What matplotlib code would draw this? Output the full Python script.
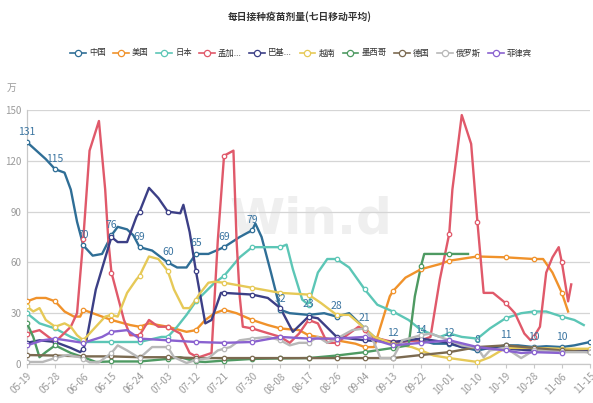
import numpy as np
import pandas as pd
import matplotlib
matplotlib.use("Agg")
import matplotlib.pyplot as plt
from matplotlib.lines import Line2D

plt.rcParams['font.family'] = ['Noto Sans CJK SC', 'DejaVu Sans']

# 每日接种疫苗剂量(七日移动平均), 单位: 万剂
start = pd.Timestamp('2021-05-19')
tick_dates = ['05-19', '05-28', '06-06', '06-15', '06-24', '07-03', '07-12', '07-21',
              '07-30', '08-08', '08-17', '08-26', '09-04', '09-13', '09-22', '10-01',
              '10-10', '10-19', '10-28', '11-06', '11-15']

names = ['中国', '美国', '日本', '孟加...', '巴基...', '越南', '墨西哥', '德国', '俄罗斯', '菲律宾']
colors = ['#2f6e96', '#f0922b', '#5cc6b6', '#e0596a', '#3c3f86',
          '#e6c957', '#4e9a62', '#7b6a50', '#b8b8b8', '#8a62d0']

china = [('05-19', 131), ('05-22', 126), ('05-25', 121), ('05-28', 115), ('05-31', 113),
         ('06-02', 103), ('06-04', 84), ('06-06', 70), ('06-09', 64), ('06-12', 65),
         ('06-15', 76), ('06-17', 81), ('06-20', 79.5), ('06-22', 76), ('06-24', 69),
         ('06-28', 67), ('07-03', 60), ('07-06', 57), ('07-09', 57), ('07-12', 65),
         ('07-16', 65), ('07-21', 69), ('07-26', 75), ('07-30', 79), ('07-31', 83),
         ('08-02', 75), ('08-05', 54), ('08-08', 32), ('08-11', 30), ('08-17', 29),
         ('08-22', 30), ('08-26', 28), ('08-30', 30), ('09-04', 21), ('09-07', 16),
         ('09-10', 14), ('09-13', 12), ('09-16', 13), ('09-19', 14), ('09-22', 14),
         ('09-26', 12), ('10-01', 12), ('10-05', 10), ('10-10', 8), ('10-14', 9.5),
         ('10-19', 11), ('10-23', 11), ('10-28', 10), ('11-01', 10.5), ('11-06', 10),
         ('11-10', 11), ('11-15', 13)]
china_labels = ['131', '115', '70', '76', '69', '60', '65', '69', '79', '32', '23',
                '28', '21', '12', '14', '12', '8', '11', '10', '10']

usa = [('05-19', 37), ('05-22', 39), ('05-25', 39), ('05-28', 37), ('05-31', 31),
       ('06-03', 28), ('06-05', 28), ('06-06', 32), ('06-09', 30), ('06-15', 26),
       ('06-21', 23), ('06-24', 22), ('06-27', 24), ('07-03', 22), ('07-09', 19),
       ('07-12', 20), ('07-15', 26), ('07-18', 30), ('07-21', 32), ('07-25', 30),
       ('07-30', 26), ('08-04', 23), ('08-08', 21), ('08-14', 20), ('08-17', 17),
       ('08-20', 16), ('08-26', 14), ('09-01', 12), ('09-04', 10), ('09-07', 10),
       ('09-09', 22), ('09-12', 40), ('09-13', 43), ('09-17', 51), ('09-22', 56),
       ('09-28', 59), ('10-01', 61), ('10-10', 63.5), ('10-19', 63), ('10-28', 62),
       ('10-31', 62), ('11-03', 54), ('11-06', 42), ('11-08', 31)]

japan = [('05-19', 30), ('05-23', 24), ('05-28', 21), ('06-02', 16), ('06-06', 13),
         ('06-15', 13), ('06-24', 13), ('07-01', 16), ('07-03', 16), ('07-06', 22),
         ('07-09', 29), ('07-12', 37), ('07-18', 48), ('07-21', 52), ('07-26', 63),
         ('07-30', 69), ('08-08', 69), ('08-10', 70.5), ('08-12', 56), ('08-15', 38),
         ('08-17', 35), ('08-20', 54), ('08-23', 62), ('08-26', 62), ('08-30', 57),
         ('09-04', 44), ('09-08', 35), ('09-13', 31), ('09-18', 26), ('09-22', 20),
         ('09-28', 16), ('10-01', 18), ('10-05', 16), ('10-10', 15), ('10-14', 21),
         ('10-19', 27), ('10-24', 30), ('10-28', 31), ('11-01', 31), ('11-06', 28),
         ('11-10', 26), ('11-13', 23)]

bangladesh = [('05-19', 18), ('05-23', 20), ('05-28', 13), ('06-02', 22), ('06-04', 30),
              ('06-06', 74), ('06-08', 126), ('06-11', 143.5), ('06-13', 103), ('06-14', 73),
              ('06-15', 54), ('06-19', 26), ('06-21', 17), ('06-24', 17), ('06-27', 26),
              ('06-30', 22), ('07-03', 22), ('07-07', 18), ('07-10', 6.5), ('07-12', 4.5),
              ('07-13', 4), ('07-17', 6.5), ('07-18', 40), ('07-19', 73), ('07-21', 123),
              ('07-24', 126), ('07-25', 73), ('07-26', 40), ('07-27', 22), ('07-30', 21),
              ('08-08', 16), ('08-11', 12.5), ('08-14', 18), ('08-17', 26), ('08-20', 24),
              ('08-23', 12.5), ('08-26', 12.5), ('08-30', 18), ('09-02', 22), ('09-04', 20),
              ('09-06', 16), ('09-13', 13), ('09-22', 14), ('09-25', 16), ('09-28', 50),
              ('10-01', 77), ('10-02', 103), ('10-05', 147), ('10-08', 130), ('10-10', 84),
              ('10-12', 42), ('10-15', 42), ('10-19', 36), ('10-22', 30), ('10-25', 18),
              ('10-27', 14), ('10-28', 16), ('10-30', 22), ('11-01', 54), ('11-03', 63),
              ('11-05', 69), ('11-06', 60), ('11-08', 37), ('11-09', 47)]

pakistan = [('05-19', 12.5), ('05-23', 14), ('05-28', 13), ('06-02', 9.5), ('06-05', 7),
            ('06-06', 9), ('06-07', 14), ('06-10', 44), ('06-15', 75), ('06-17', 72),
            ('06-20', 72), ('06-23', 87), ('06-24', 90), ('06-27', 104), ('06-30', 98),
            ('07-03', 90), ('07-07', 89), ('07-08', 94), ('07-10', 78), ('07-12', 55),
            ('07-15', 24), ('07-17', 26), ('07-20', 42), ('07-21', 42), ('07-30', 41),
            ('08-04', 39), ('08-08', 33), ('08-12', 19), ('08-17', 28), ('08-20', 27),
            ('08-26', 16), ('09-04', 14), ('09-13', 13), ('09-22', 15), ('10-01', 12.5),
            ('10-05', 10), ('10-10', 9.5), ('10-19', 9), ('10-28', 8), ('11-06', 8),
            ('11-15', 8)]

vietnam = [('05-19', 34), ('05-21', 31), ('05-23', 33), ('05-25', 26), ('05-28', 22),
           ('05-31', 24), ('06-02', 22), ('06-04', 17), ('06-06', 14), ('06-08', 18),
           ('06-10', 22), ('06-13', 28), ('06-15', 29), ('06-17', 28), ('06-20', 42),
           ('06-23', 50), ('06-24', 52), ('06-25', 56), ('06-27', 63.5), ('06-30', 62),
           ('07-03', 55), ('07-05', 44), ('07-08', 33), ('07-10', 33), ('07-12', 38),
           ('07-13', 41), ('07-16', 48), ('07-18', 48.6), ('07-21', 48), ('07-30', 45),
           ('08-08', 42), ('08-17', 41), ('08-21', 36), ('08-26', 29), ('08-30', 29),
           ('09-04', 21), ('09-07', 16), ('09-13', 12), ('09-19', 10), ('09-22', 8),
           ('09-26', 5), ('10-01', 3.5), ('10-10', 1.2), ('10-14', 4), ('10-19', 9.5),
           ('10-28', 9.5), ('11-06', 9), ('11-15', 9)]

mexico = [('05-19', 24), ('05-21', 16), ('05-23', 4), ('05-25', 7), ('05-28', 11),
          ('06-02', 6.5), ('06-06', 4), ('06-10', 1.2), ('06-15', 1.5), ('06-24', 1.5),
          ('07-03', 3), ('07-07', 4), ('07-12', 1.5), ('07-15', 1.2), ('07-21', 2),
          ('07-30', 3), ('08-08', 3.3), ('08-17', 3.5), ('08-26', 5), ('09-04', 7),
          ('09-13', 9.5), ('09-18', 11), ('09-20', 40), ('09-22', 58), ('09-23', 65),
          ('10-01', 65), ('10-07', 65)]

germany = [('05-19', 5.3), ('05-28', 5), ('06-06', 4.5), ('06-15', 4.5), ('06-24', 4),
           ('07-03', 4), ('07-12', 3.5), ('07-21', 3.5), ('07-30', 3.5), ('08-08', 3.5),
           ('08-17', 3.5), ('08-26', 3.5), ('09-04', 3.5), ('09-13', 3.5), ('09-22', 5.3),
           ('10-01', 7), ('10-10', 10), ('10-19', 11), ('10-28', 9.5), ('11-06', 8),
           ('11-15', 7)]

russia = [('05-19', 1.2), ('05-24', 1.2), ('05-28', 3.5), ('06-01', 5.3), ('06-05', 4),
          ('06-06', 3), ('06-08', 1), ('06-11', 1), ('06-15', 6.5), ('06-17', 11),
          ('06-20', 8), ('06-24', 3.5), ('06-28', 10), ('07-03', 10), ('07-05', 4),
          ('07-09', 0.6), ('07-12', 2.4), ('07-16', 3.5), ('07-19', 8), ('07-21', 9),
          ('07-23', 10), ('07-26', 14), ('07-30', 15), ('08-04', 16), ('08-08', 14),
          ('08-11', 11), ('08-14', 12.5), ('08-17', 12.5), ('08-20', 16), ('08-23', 12.5),
          ('08-26', 15), ('08-31', 20), ('09-04', 21), ('09-07', 12.5), ('09-09', 3.5),
          ('09-13', 3.5), ('09-16', 14), ('09-22', 17), ('09-25', 18), ('09-28', 16),
          ('10-01', 14), ('10-05', 11), ('10-10', 9.5), ('10-12', 4), ('10-14', 8),
          ('10-19', 9.5), ('10-24', 3.5), ('10-28', 8), ('11-06', 7), ('11-15', 7)]

philippines = [('05-19', 11), ('05-24', 14), ('05-28', 15), ('06-06', 12.5), ('06-12', 16),
               ('06-15', 19), ('06-20', 20), ('06-24', 15), ('07-03', 14), ('07-12', 13),
               ('07-21', 12.5), ('07-30', 13), ('08-08', 16), ('08-17', 15), ('08-26', 15),
               ('09-04', 16), ('09-13', 11), ('09-22', 12.5), ('10-01', 14), ('10-10', 10),
               ('10-19', 8), ('10-24', 6.5), ('10-28', 7), ('11-06', 6.5)]

series = [china, usa, japan, bangladesh, pakistan, vietnam, mexico, germany, russia, philippines]


def to_day(md):
    return (pd.Timestamp('2021-' + md) - start).days


fig = plt.figure(figsize=(5.93, 4.03), dpi=100)
ax = fig.add_axes([27 / 593, 1 - 364 / 403, 563 / 593, 254 / 403])

# 水印
ax.text(0.505, 0.57, 'Win.d', transform=ax.transAxes, ha='center', va='center',
        fontsize=36, fontweight='bold', color='#efefef', zorder=0,
        family=['Liberation Sans Narrow', 'DejaVu Sans'])

tick_days = [to_day(d) for d in tick_dates]
handles = []
for data, name, c in zip(series, names, colors):
    x = [to_day(d) for d, _ in data]
    y = [v for _, v in data]
    ax.plot(x, y, color=c, lw=1.7, zorder=3, solid_joinstyle='round')
    mx = [to_day(d) for d, _ in data if d in tick_dates]
    my = [v for d, v in data if d in tick_dates]
    ax.plot(mx, my, 'o', ms=3.2, mfc='white', mec=c, mew=0.9, zorder=4)
    handles.append(Line2D([], [], color=c, lw=1.2, marker='o', ms=4.5, mfc='white',
                          mec=c, mew=0.9, label=name))

# 中国数据标签
cn = dict(china)
for d, lab in zip(tick_dates, china_labels):
    ax.annotate(lab, (to_day(d), cn[d]), xytext=(0, 4), textcoords='offset points',
                ha='center', va='bottom', fontsize=7.5, color='#3a74a0', zorder=5)

ax.set_xlim(0, 180)
ax.set_ylim(0, 150)
ax.set_yticks(np.arange(0, 151, 30))
ax.set_xticks(tick_days)
ax.set_xticklabels(tick_dates, rotation=45, ha='right', va='top', rotation_mode='anchor')
ax.grid(axis='y', color='#d5d5d5', lw=0.9)
ax.set_axisbelow(True)
for s in ['top', 'right']:
    ax.spines[s].set_visible(False)
for s in ['left', 'bottom']:
    ax.spines[s].set_color('#c8c8c8')
    ax.spines[s].set_linewidth(0.9)
ax.tick_params(axis='y', length=0, pad=4, labelsize=7, labelcolor='#9a9a9a')
ax.tick_params(axis='x', length=3, color='#c8c8c8', pad=2, labelsize=7, labelcolor='#9a9a9a')

fig.text(12 / 593, 1 - 88 / 403, '万', ha='center', va='center', fontsize=7, color='#9a9a9a')
fig.text(0.506, 1 - 17 / 403, '每日接种疫苗剂量(七日移动平均)', ha='center', va='center',
         fontsize=7, fontweight='bold', color='#333333')
fig.legend(handles=handles, loc='center', bbox_to_anchor=(0.508, 1 - 53 / 403), ncol=10,
           frameon=False, fontsize=6, handlelength=1.9, handletextpad=0.35,
           columnspacing=0.9, labelcolor='#333333')

fig.savefig('out.png', dpi=100, facecolor='white')
